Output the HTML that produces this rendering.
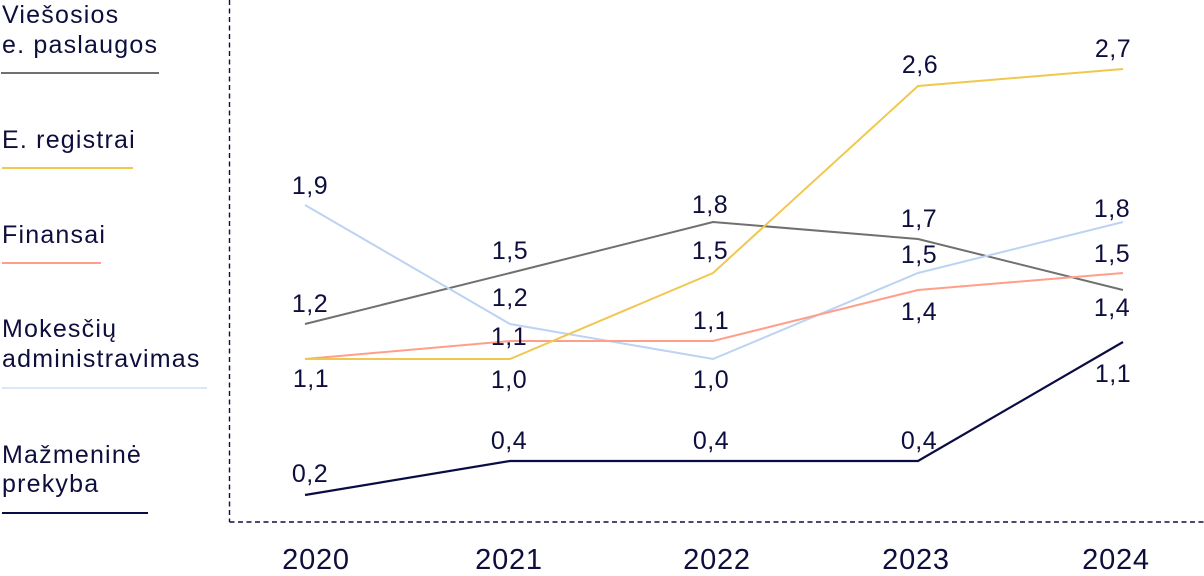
<!DOCTYPE html>
<html>
<head>
<meta charset="utf-8">
<style>
html,body{margin:0;padding:0;background:#fff;}
svg{display:block;}
text{font-family:"Liberation Sans",sans-serif;fill:#0e0e3e;}
.lg{font-size:25px;letter-spacing:1.2px;}
.lb{font-size:25px;text-anchor:middle;letter-spacing:0.5px;}
.yr{font-size:29px;text-anchor:middle;letter-spacing:0.8px;}
</style>
</head>
<body>
<svg width="1204" height="576" viewBox="0 0 1204 576" xmlns="http://www.w3.org/2000/svg">
<!-- axes dashed -->
<line x1="229.5" y1="0" x2="229.5" y2="522" stroke="#0e0e3e" stroke-width="1.4" stroke-dasharray="5 3.5"/>
<line x1="229.5" y1="522" x2="1204" y2="522" stroke="#0e0e3e" stroke-width="1.4" stroke-dasharray="5 3.5"/>

<!-- legend -->
<text class="lg" x="2" y="23">Viešosios</text>
<text class="lg" x="2" y="53">e. paslaugos</text>
<line x1="1" y1="73" x2="159" y2="73" stroke="#707070" stroke-width="2"/>

<text class="lg" x="2" y="148">E. registrai</text>
<line x1="2" y1="168" x2="133" y2="168" stroke="#f0c850" stroke-width="2"/>

<text class="lg" x="2" y="243">Finansai</text>
<line x1="2" y1="263" x2="101" y2="263" stroke="#ff9f8a" stroke-width="2"/>

<text class="lg" x="2" y="337">Mokesčių</text>
<text class="lg" x="2" y="367">administravimas</text>
<line x1="2" y1="388" x2="207" y2="388" stroke="#dbe7f8" stroke-width="2"/>

<text class="lg" x="2" y="463">Mažmeninė</text>
<text class="lg" x="2" y="492">prekyba</text>
<line x1="2" y1="513" x2="148" y2="513" stroke="#0c0c45" stroke-width="2"/>

<!-- series -->
<polyline fill="none" stroke="#707070" stroke-width="2" points="305,324 510,273 713,222 918,239 1123,290"/>
<polyline fill="none" stroke="#bcd3f3" stroke-width="2" points="305,205 510,324 713,359 918,273 1123,222"/>
<polyline fill="none" stroke="#ff9f8a" stroke-width="2" points="305,359 510,341 713,341 918,290 1123,273"/>
<polyline fill="none" stroke="#f0c850" stroke-width="2" points="305,359 510,359 713,273 918,86 1123,69"/>
<polyline fill="none" stroke="#0c0c45" stroke-width="2.2" points="305,495 510,461 713,461 918,461 1123,342"/>

<!-- labels 2020 -->
<text class="lb" x="310" y="194">1,9</text>
<text class="lb" x="310" y="312">1,2</text>
<text class="lb" x="311" y="387">1,1</text>
<text class="lb" x="310" y="482">0,2</text>
<!-- 2021 -->
<text class="lb" x="510" y="259">1,5</text>
<text class="lb" x="510" y="306">1,2</text>
<text class="lb" x="509" y="345">1,1</text>
<text class="lb" x="509" y="388">1,0</text>
<text class="lb" x="509" y="449">0,4</text>
<!-- 2022 -->
<text class="lb" x="710" y="213">1,8</text>
<text class="lb" x="710" y="259">1,5</text>
<text class="lb" x="711" y="329">1,1</text>
<text class="lb" x="711" y="388">1,0</text>
<text class="lb" x="711" y="449">0,4</text>
<!-- 2023 -->
<text class="lb" x="920" y="73">2,6</text>
<text class="lb" x="919" y="227">1,7</text>
<text class="lb" x="919" y="263">1,5</text>
<text class="lb" x="919" y="320">1,4</text>
<text class="lb" x="919" y="449">0,4</text>
<!-- 2024 -->
<text class="lb" x="1113" y="57">2,7</text>
<text class="lb" x="1112" y="217">1,8</text>
<text class="lb" x="1112" y="262">1,5</text>
<text class="lb" x="1112" y="316">1,4</text>
<text class="lb" x="1113" y="382">1,1</text>

<!-- years -->
<text class="yr" x="316" y="569">2020</text>
<text class="yr" x="509" y="569">2021</text>
<text class="yr" x="717" y="569">2022</text>
<text class="yr" x="916" y="569">2023</text>
<text class="yr" x="1116" y="569">2024</text>
</svg>
</body>
</html>
